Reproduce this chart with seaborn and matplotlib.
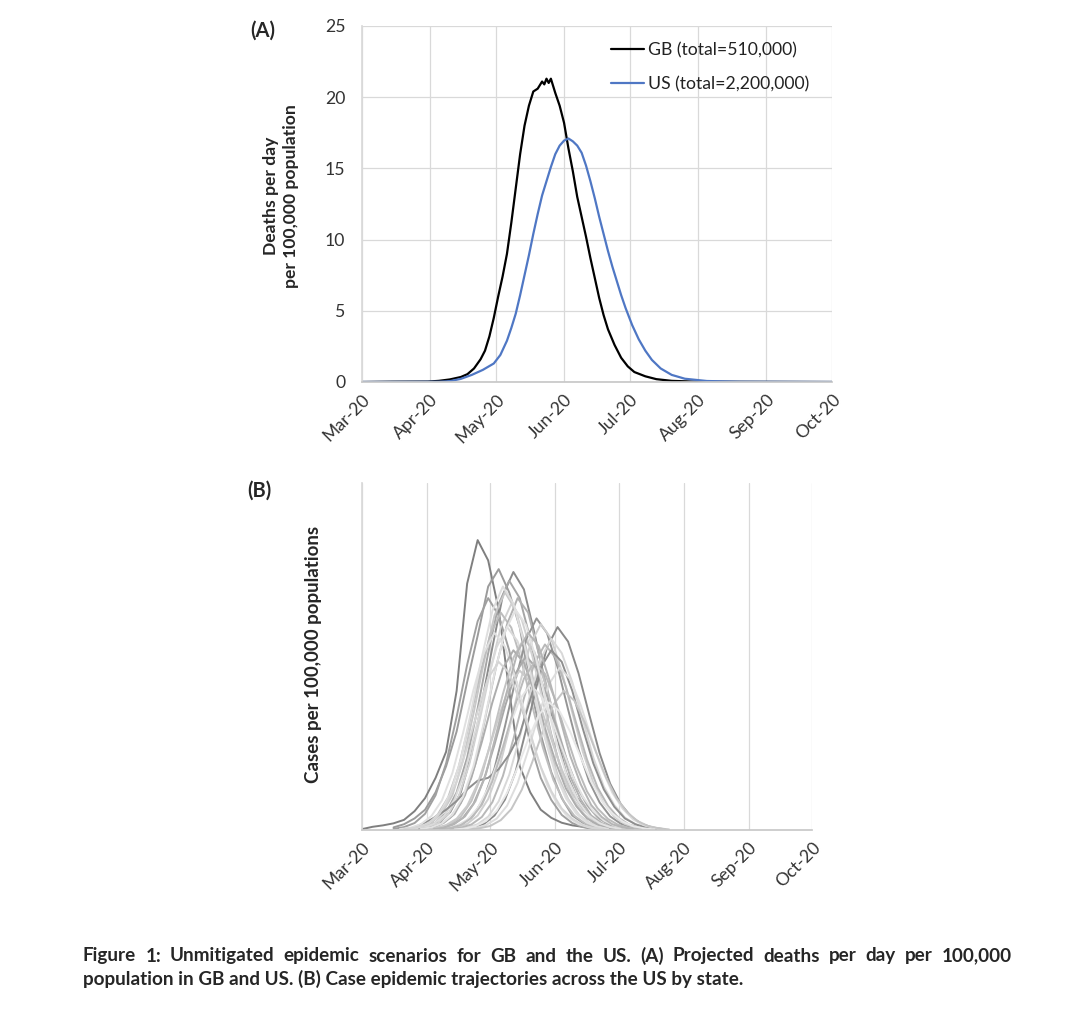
import numpy as np
import pandas as pd
import matplotlib
matplotlib.use("Agg")
import matplotlib.pyplot as plt
import matplotlib.dates as mdates
import seaborn as sns

sns.set_theme(style="white")
plt.rcParams["font.family"] = ["Lato", "DejaVu Sans"]

# ---- panel A: deaths per day per 100,000 ----
gb_dates = ["2020-03-01", "2020-03-15", "2020-03-31", "2020-04-05", "2020-04-10", "2020-04-15",
            "2020-04-18", "2020-04-21", "2020-04-24", "2020-04-26", "2020-04-28", "2020-04-30",
            "2020-05-02", "2020-05-04", "2020-05-06", "2020-05-08", "2020-05-10", "2020-05-12",
            "2020-05-14", "2020-05-16", "2020-05-18", "2020-05-20", "2020-05-22", "2020-05-23",
            "2020-05-24", "2020-05-25", "2020-05-26", "2020-05-28", "2020-05-30", "2020-06-01",
            "2020-06-03", "2020-06-05", "2020-06-07", "2020-06-09", "2020-06-11", "2020-06-13",
            "2020-06-15", "2020-06-17", "2020-06-19", "2020-06-21", "2020-06-24", "2020-06-27",
            "2020-06-30", "2020-07-03", "2020-07-08", "2020-07-13", "2020-07-20", "2020-08-01",
            "2020-10-01"]
gb_values = [0.0, 0.02, 0.03, 0.08, 0.18, 0.35,
             0.55, 0.95, 1.6, 2.2, 3.2, 4.5,
             6.0, 7.4, 9.0, 11.2, 13.6, 16.0,
             18.0, 19.4, 20.4, 20.6, 21.1, 20.9,
             21.3, 21.0, 21.3, 20.3, 19.4, 18.2,
             16.4, 14.8, 13.0, 11.6, 10.2, 8.7,
             7.3, 5.9, 4.7, 3.7, 2.6, 1.7,
             1.1, 0.7, 0.4, 0.2, 0.08, 0.02,
             0.0]

us_dates = ["2020-03-01", "2020-04-05", "2020-04-10", "2020-04-15", "2020-04-20", "2020-04-25",
            "2020-04-30", "2020-05-03", "2020-05-06", "2020-05-08", "2020-05-10", "2020-05-12",
            "2020-05-14", "2020-05-16", "2020-05-18", "2020-05-20", "2020-05-22", "2020-05-24",
            "2020-05-26", "2020-05-28", "2020-05-30", "2020-06-01", "2020-06-03", "2020-06-05",
            "2020-06-07", "2020-06-09", "2020-06-11", "2020-06-13", "2020-06-15", "2020-06-17",
            "2020-06-19", "2020-06-21", "2020-06-23", "2020-06-25", "2020-06-27", "2020-06-29",
            "2020-07-02", "2020-07-05", "2020-07-08", "2020-07-11", "2020-07-15", "2020-07-20",
            "2020-07-26", "2020-08-05", "2020-08-20", "2020-10-01"]
us_values = [0.0, 0.02, 0.06, 0.22, 0.5, 0.85,
             1.3, 1.9, 2.9, 3.8, 4.8, 6.1,
             7.5, 8.9, 10.4, 11.8, 13.1, 14.1,
             15.1, 16.0, 16.6, 16.95, 17.1, 16.9,
             16.6, 16.1, 15.2, 14.1, 12.9, 11.6,
             10.4, 9.2, 8.1, 7.1, 6.1, 5.2,
             4.0, 3.0, 2.2, 1.55, 0.95, 0.5,
             0.23, 0.07, 0.02, 0.0]

series_labels = ["GB (total=510,000)", "US (total=2,200,000)"]

# ---- panel B: state case trajectories, one value every 5 days from each start date ----
state_starts = ["2020-03-01", "2020-03-16", "2020-03-28", "2020-03-26", "2020-03-16", "2020-03-24",
                "2020-03-27", "2020-03-22", "2020-03-30", "2020-03-25", "2020-04-02", "2020-04-08",
                "2020-04-10", "2020-04-18", "2020-04-15", "2020-04-12", "2020-03-26", "2020-04-19",
                "2020-04-03", "2020-03-19", "2020-03-31", "2020-04-05", "2020-03-28", "2020-04-21",
                "2020-03-23", "2020-04-07", "2020-03-29", "2020-04-04", "2020-03-21", "2020-04-14"]
state_01 = [0.3, 1.1, 1.6, 2.3, 3.5, 6.5, 11, 18, 27, 48, 85, 100, 93, 76, 48, 22, 13, 7, 4.2, 2.5, 1.6, 1.1, 0.5, 0.2, 0]
state_02 = [0.9, 2, 4, 7, 13, 22, 34, 51, 67, 84, 90, 82, 70, 50, 33, 20, 11, 5, 2.5, 1, 0.4]
state_03 = [0.4, 1.1, 2.7, 6.2, 13, 26, 44, 63, 81, 89, 83, 68, 51, 34, 20, 11.5, 6, 2.7, 1.2, 0.4]
state_04 = [0.4, 1, 2.6, 6, 13, 25, 42, 61, 78, 86, 80, 66, 49, 33, 20, 11, 5.6, 2.6, 1.1, 0.4]
state_05 = [0.4, 1, 2.4, 5.6, 12, 23, 39, 57, 72, 80, 74, 62, 46, 30, 18, 10.4, 5.2, 2.4, 1, 0.4]
state_06 = [0.4, 1, 2.5, 5.7, 12, 24, 40, 58, 74, 82, 76, 63, 47, 31, 19, 10.7, 5.3, 2.5, 1.1, 0.4]
state_07 = [0.4, 0.9, 2.3, 5.5, 11.7, 22.6, 38, 55, 70, 78, 72.5, 60, 44.5, 29.6, 17.9, 10.1, 5.1, 2.3, 1, 0.4]
state_08 = [0.4, 0.9, 2.3, 5.3, 11.3, 21.8, 36.8, 53.3, 67.5, 75, 69.8, 57.8, 42.8, 28.5, 17.3, 9.8, 4.9, 2.3, 1, 0.4]
state_09 = [0.4, 1, 2.5, 5.5, 12, 23, 40, 57, 71, 80, 75, 61, 46, 30, 18.5, 10.5, 5, 2.4, 1, 0.4]
state_10 = [0.35, 0.8, 2.1, 4.9, 10.5, 20.3, 34.3, 49.7, 63, 70, 65.1, 53.9, 39.9, 26.6, 16.1, 9.1, 4.6, 2.1, 0.9, 0.35]
state_11 = [0.3, 0.8, 2, 4.6, 9.9, 19.1, 32.3, 46.9, 59.4, 66, 61.4, 50.8, 37.6, 25.1, 15.2, 8.6, 4.3, 2, 0.9, 0.3]
state_12 = [0.4, 0.9, 2.2, 5.1, 11, 21.2, 35.8, 51.8, 65.7, 73, 67.9, 56.2, 41.6, 27.7, 16.8, 9.5, 4.7, 2.2, 0.9, 0.4]
state_13 = [0.4, 0.9, 2.1, 5, 10.7, 20.6, 34.8, 50.4, 63.9, 71, 66, 54.7, 40.5, 27, 16.3, 9.2, 4.6, 2.1, 0.9, 0.4]
state_14 = [0.35, 0.8, 2.1, 5, 10.5, 20, 34.5, 49.5, 63, 70, 65, 54, 40, 26.5, 16, 9, 4.6, 2.1, 0.9, 0.35]
state_15 = [0.3, 0.8, 2, 4.6, 9.9, 19, 32, 47, 59, 66, 61, 51, 38, 25, 15, 8.6, 4.3, 2, 0.9, 0.3]
state_16 = [0.3, 0.8, 1.9, 4.5, 9.6, 18.6, 31.4, 45.4, 57.6, 64, 59.5, 49.3, 36.5, 24.3, 14.7, 8.3, 4.2, 1.9, 0.8, 0.3]
state_17 = [1, 2.5, 4.5, 7, 10, 14, 17, 18, 21, 26, 33, 45, 56, 62, 58, 48, 35, 23, 14, 8, 4, 2, 0.8, 0.3]
state_18 = [0.3, 0.7, 1.7, 3.9, 8.4, 16.2, 27.4, 39.8, 50.4, 56, 52.1, 43.1, 31.9, 21.3, 12.9, 7.3, 3.6, 1.7, 0.7, 0.3]
state_19 = [0.3, 0.7, 1.8, 4.2, 9, 17.4, 29.4, 42.6, 54, 60, 55.8, 46.2, 34.2, 22.8, 13.8, 7.8, 3.9, 1.8, 0.8, 0.3]
state_20 = [0.3, 0.8, 2, 4.8, 10.2, 19.7, 33.3, 48.3, 61.2, 68, 63.2, 52.4, 38.8, 25.8, 15.6, 8.8, 4.4, 2, 0.9, 0.3]
state_21 = [0.3, 0.7, 1.7, 3.9, 8.3, 16, 27, 39, 49.5, 55, 51.2, 42.4, 31.4, 20.9, 12.7, 7.2, 3.6, 1.7, 0.7, 0.3]
state_22 = [0.25, 0.6, 1.5, 3.5, 7.5, 14.5, 24.5, 35.5, 45, 50, 46.5, 38.5, 28.5, 19, 11.5, 6.5, 3.3, 1.5, 0.65, 0.25]
state_23 = [0.3, 0.7, 1.9, 4.3, 9.3, 18, 30.4, 44, 55.8, 62, 57.7, 47.7, 35.3, 23.6, 14.3, 8.1, 4, 1.9, 0.8, 0.3]
state_24 = [0.2, 0.6, 1.4, 3.4, 7.2, 13.9, 23.5, 34.1, 43.2, 48, 44.6, 37, 27.4, 18.2, 11, 6.2, 3.1, 1.4, 0.6, 0.2]
state_25 = [0.4, 1, 2.5, 5.9, 12.6, 24.4, 41.2, 59.6, 75.6, 84, 78.1, 64.7, 47.9, 31.9, 19.3, 10.9, 5.5, 2.5, 1.1, 0.4]
state_26 = [0.3, 0.7, 1.7, 4.1, 8.7, 16.8, 28.4, 41.2, 52.2, 58, 53.9, 44.7, 33.1, 22, 13.3, 7.5, 3.8, 1.7, 0.75, 0.3]
state_27 = [0.4, 0.9, 2.3, 5.3, 11.4, 22, 37.2, 54, 68.4, 76, 70.7, 58.5, 43.3, 28.9, 17.5, 9.9, 4.9, 2.3, 1, 0.4]
state_28 = [0.3, 0.8, 2.1, 4.7, 10, 19.5, 33.6, 48, 61.5, 68, 63.5, 52, 39, 25.6, 15.8, 8.6, 4.5, 2, 0.9, 0.3]
state_29 = [0.3, 0.7, 1.8, 4, 8.8, 16.6, 28.6, 41, 52.4, 58, 54.2, 44.5, 33.3, 21.8, 13.4, 7.4, 3.9, 1.7, 0.7, 0.3]
state_30 = [0.2, 0.5, 1.3, 3.1, 6.6, 12.8, 21.6, 31.2, 39.6, 44, 40.9, 33.9, 25.1, 16.7, 10.1, 5.7, 2.9, 1.3, 0.6, 0.2]

month_ticks = pd.date_range("2020-03-01", "2020-10-01", freq="MS")

state_series = [state_01, state_02, state_03, state_04, state_05, state_06, state_07, state_08,
                state_09, state_10, state_11, state_12, state_13, state_14, state_15, state_16,
                state_17, state_18, state_19, state_20, state_21, state_22, state_23, state_24,
                state_25, state_26, state_27, state_28, state_29, state_30]
state_greys = ["#7f7f7f", "#9b9b9b", "#8c8c8c", "#a6a6a6", "#a0a0a0", "#c8c8c8", "#d2d2d2",
               "#bdbdbd", "#b2b2b2", "#dadada", "#c2c2c2", "#959595", "#cfcfcf", "#8a8a8a",
               "#d8d8d8", "#b8b8b8", "#8f8f8f", "#dddddd", "#a9a9a9", "#e0e0e0", "#cacaca",
               "#e4e4e4", "#adadad", "#c5c5c5", "#dedede", "#bbbbbb", "#e2e2e2", "#b5b5b5",
               "#d5d5d5", "#e8e8e8"]

df_a = pd.concat([
    pd.DataFrame({"date": pd.to_datetime(gb_dates), "value": gb_values, "series": series_labels[0]}),
    pd.DataFrame({"date": pd.to_datetime(us_dates), "value": us_values, "series": series_labels[1]}),
])

frames = []
for i, (start, vals) in enumerate(zip(state_starts, state_series)):
    frames.append(pd.DataFrame({
        "date": pd.date_range(start, periods=len(vals), freq="5D"),
        "value": vals,
        "state": f"s{i + 1:02d}",
    }))
df_b = pd.concat(frames)
state_names = [f"s{i + 1:02d}" for i in range(len(state_series))]

W, H = 1080, 1024
fig = plt.figure(figsize=(W / 100, H / 100), dpi=100)
ax_a = fig.add_axes([362 / W, 1 - 382 / H, 470 / W, 356 / H])
ax_b = fig.add_axes([362 / W, 1 - 830 / H, 450 / W, 347 / H])

grid_c = "#d9d9d9"
tick_fs = 12.7

# panel A
sns.lineplot(data=df_a, x="date", y="value", hue="series",
             palette={series_labels[0]: "black", series_labels[1]: "#4f77c4"},
             linewidth=1.6, ax=ax_a, estimator=None)
ax_a.set_ylim(0, 25)
ax_a.set_yticks([0, 5, 10, 15, 20, 25])
ax_a.grid(True, color=grid_c, linewidth=0.9)
ax_a.set_axisbelow(True)

# panel B
sns.lineplot(data=df_b, x="date", y="value", hue="state", hue_order=state_names,
             palette=dict(zip(state_names, state_greys)), linewidth=1.4,
             ax=ax_b, estimator=None, legend=False)
ax_b.set_ylim(0, 119.7)
ax_b.set_yticks([])
ax_b.grid(True, axis="x", color=grid_c, linewidth=0.9)
ax_b.grid(False, axis="y")
ax_b.set_axisbelow(True)

for ax in (ax_a, ax_b):
    ax.set_xlim(month_ticks[0], month_ticks[-1])
    ax.set_xticks(month_ticks)
    ax.xaxis.set_major_formatter(mdates.DateFormatter("%b-%y"))
    ax.set_xlabel("")
    ax.set_ylabel("")
    for s in ("top", "right"):
        ax.spines[s].set_visible(False)
    ax.spines["left"].set_color(grid_c)
    ax.spines["bottom"].set_color("#c8c8c8")
    ax.tick_params(axis="x", length=0, pad=7, labelsize=tick_fs, labelcolor="#333333")
    ax.tick_params(axis="y", length=0, pad=12, labelsize=tick_fs, labelcolor="#333333")
    plt.setp(ax.get_xticklabels(), rotation=45, ha="right", rotation_mode="anchor")

leg = ax_a.legend(loc="upper right", bbox_to_anchor=(0.985, 1.0), frameon=False,
                  fontsize=tick_fs, handlelength=1.9, handletextpad=0.2, labelspacing=1.05)
for t in leg.get_texts():
    t.set_color("#222222")

# labels
fig.text(263 / W, 1 - 31 / H, "(A)", fontsize=14.5, fontweight="bold", ha="center", va="center")
fig.text(259 / W, 1 - 491 / H, "(B)", fontsize=14.5, fontweight="bold", ha="center", va="center")
fig.text(281 / W, 1 - 196 / H, "Deaths per day\nper 100,000 population", fontsize=12.6,
         fontweight="bold", rotation=90, ha="center", va="center", multialignment="center",
         linespacing=1.25)
fig.text(314 / W, 1 - 654 / H, "Cases per 100,000 populations", fontsize=13.5,
         fontweight="bold", rotation=90, ha="center", va="center")

# caption, first line justified
cap1 = "Figure 1: Unmitigated epidemic scenarios for GB and the US. (A) Projected deaths per day per 100,000"
cap2 = "population in GB and US. (B) Case epidemic trajectories across the US by state."
cap_fs = 13.6
fig.canvas.draw()
renderer = fig.canvas.get_renderer()
words = cap1.split()
arts = [fig.text(0, 1 - 956 / H, w, fontsize=cap_fs, fontweight="bold", va="center", ha="left")
        for w in words]
widths = [a.get_window_extent(renderer).width for a in arts]
gap = (1012 - 83 - sum(widths)) / (len(words) - 1)
x = 83
for a, w in zip(arts, widths):
    a.set_x(x / W)
    x += w + gap
fig.text(83 / W, 1 - 979 / H, cap2, fontsize=cap_fs, fontweight="bold", va="center", ha="left")

fig.savefig("out.png", dpi=100, facecolor="white")
